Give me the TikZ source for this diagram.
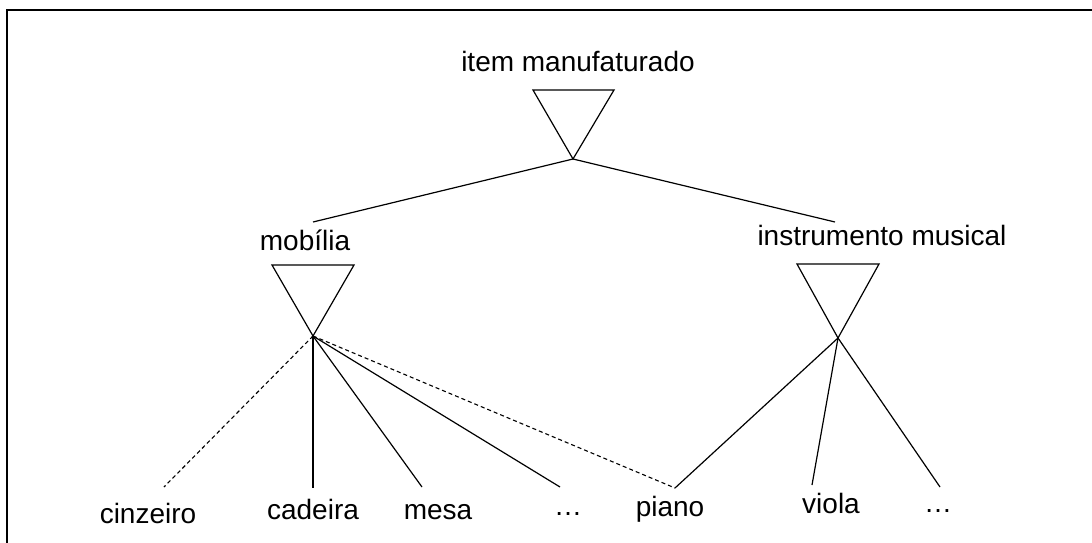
\documentclass[tikz,border=0pt]{standalone}
\usepackage{fontspec}
\setmainfont{Liberation Sans}
\begin{document}
\begin{tikzpicture}[x=1pt,y=-1pt,
    lbl/.style={anchor=base,inner sep=0pt,font=\fontsize{28}{32}\selectfont},
    con/.style={line width=1.2pt},
    dcon/.style={line width=1.1pt,dash pattern=on 4pt off 3pt}]
  \useasboundingbox (0,0) rectangle (1092,543);
  \draw[line width=2.2pt] (7,543) -- (7,10) -- (1092,10);
  % labels
  \node[lbl] (item) at (578,71) {item manufaturado};
  \node[lbl] (mob) at (305,250) {mobília};
  \node[lbl] (instr) at (882,245) {instrumento musical};
  \node[lbl] (cinz) at (148,523) {cinzeiro};
  \node[lbl] (cad) at (313,519) {cadeira};
  \node[lbl] (mesa) at (438,519) {mesa};
  \node[lbl] (etcA) at (568,515) {\ldots};
  \node[lbl] (piano) at (670,516) {piano};
  \node[lbl] (viola) at (831,513) {viola};
  \node[lbl] (etcB) at (938,512) {\ldots};
  % triangles
  \coordinate (itemA) at (573,159);
  \draw[con] (533,90) -- (614,90) -- (itemA) -- cycle;
  \coordinate (mobA) at (313,336);
  \draw[con] (272,265) -- (354,265) -- (mobA) -- cycle;
  \coordinate (instrA) at (838,338);
  \draw[con] (797,264) -- (879,264) -- (instrA) -- cycle;
  % free ends
  \coordinate (mobT) at (313,222);
  \coordinate (instrT) at (835,222);
  \coordinate (cinzT) at (164,487);
  \coordinate (cadT) at (313,488);
  \coordinate (mesaT) at (422,487);
  \coordinate (etcAT) at (560,487);
  \coordinate (pianoT) at (675,488);
  \coordinate (violaT) at (812,485);
  \coordinate (etcBT) at (940,487);
  % connectors
  \draw[con] (itemA) -- (mobT);
  \draw[con] (itemA) -- (instrT);
  \draw[dcon] (mobA) -- (cinzT);
  \draw[con] (mobA) -- (cadT);
  \draw[con] (mobA) -- (mesaT);
  \draw[con] (mobA) -- (etcAT);
  \draw[dcon] (mobA) -- (pianoT);
  \draw[con] (instrA) -- (pianoT);
  \draw[con] (instrA) -- (violaT);
  \draw[con] (instrA) -- (etcBT);
\end{tikzpicture}
\end{document}
